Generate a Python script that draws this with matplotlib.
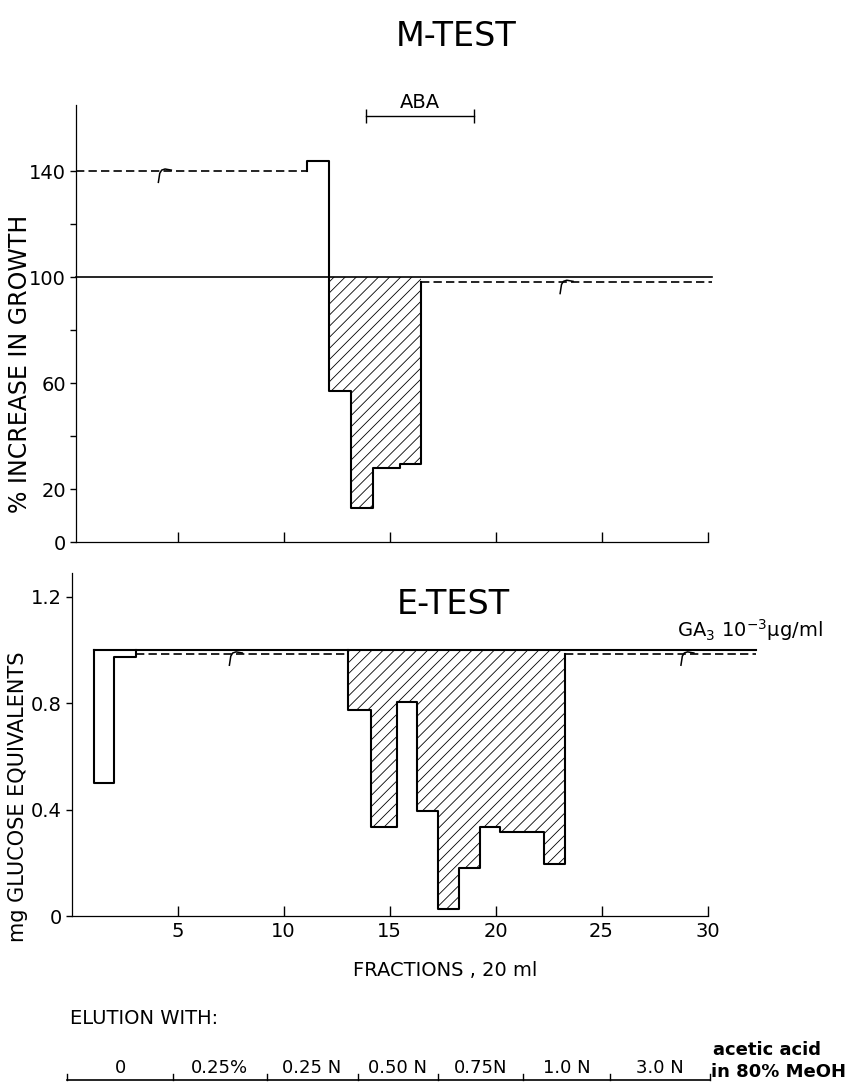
import matplotlib
matplotlib.use('Agg')
import matplotlib.pyplot as plt
import matplotlib.transforms as mtransforms
from matplotlib import font_manager

# ---- M-test (% increase in growth) ----
m_ref = 100               # control line
m_ctrl_left = 140         # dashed level, fractions before the active zone
m_ctrl_right = 98         # dashed level after the active zone
m_edges = [11.1, 12.15, 13.2, 14.2, 15.5, 16.5]
m_growth = [144, 57, 13, 28, 29.5]
m_breaks = [(4.15, 140), (23.1, 98)]
m_yticks = [0, 20, 40, 60, 80, 100, 120, 140]
m_yticklabels = ['0', '20', '', '60', '', '100', '', '140']
aba_range = [13.9, 19.0]
aba_level = 160.7

# ---- E-test (mg glucose equivalents) ----
e_ref = 1.0               # GA3 10^-3 ug/ml
e_ctrl = 0.985
e_first_edges = [1.05, 2.0, 3.05]
e_first = [0.50, 0.975]
e_edges = [13.05, 14.15, 15.35, 16.3, 17.3, 18.3, 19.25, 20.2, 22.3, 23.3]
e_glucose = [0.775, 0.335, 0.805, 0.395, 0.025, 0.18, 0.335, 0.315, 0.195]
e_breaks = [(7.5, 0.985), (28.8, 0.985)]
e_yticks = [0, 0.4, 0.8, 1.2]
e_yticklabels = ['0', '0.4', '0.8', '1.2']

x_ticks = [5, 10, 15, 20, 25, 30]

# ---- elution scheme ----
elution_bounds = [-0.2, 4.8, 9.2, 13.5, 17.3, 21.3, 25.4, 30.1]
elution_labels = ['0', '0.25%', '0.25 N', '0.50 N', '0.75N', '1.0 N', '3.0 N']

W, H = 859, 1083
names = {f.name for f in font_manager.fontManager.ttflist}
narrow = 'Liberation Sans Narrow' if 'Liberation Sans Narrow' in names else 'DejaVu Sans'
tick_fs = 16 if narrow != 'DejaVu Sans' else 14
plt.rcParams['font.family'] = ['DejaVu Sans']
plt.rcParams['hatch.linewidth'] = 0.6


def fx(px):
    return px / W


def fy(py):
    return 1 - py / H


def step_outline(edges, vals, y0, y1):
    xs = [edges[0]] + edges[:-1] + [edges[-1], edges[-1]]
    ys = [y0] + vals + [vals[-1], y1]
    return xs, ys


def break_mark(ax, x, y):
    # small squiggle on the dashed control line
    tr = (mtransforms.Affine2D().scale(1 / 72.) + fig.dpi_scale_trans +
          mtransforms.ScaledTranslation(x, y, ax.transData))
    ax.plot([-0.8, 0.2, 1.6, 4.0, 8.5], [-8, -1.5, 0.8, 1.6, 0.8],
            color='black', lw=1.1, transform=tr, clip_on=False)


fig = plt.figure(figsize=(W / 100, H / 100), dpi=100)
ax1 = fig.add_axes([fx(71.5), fy(542), 32.4 * 21.2 / W, 437 / H])
ax2 = fig.add_axes([fx(71.5), fy(916), 32.4 * 21.2 / W, 343 / H])

for ax in (ax1, ax2):
    ax.spines['top'].set_visible(False)
    ax.spines['right'].set_visible(False)
    for s in ('left', 'bottom'):
        ax.spines[s].set_linewidth(0.9)
ax1.spines['left'].set_position(('data', 0.2))

# ---------------- top panel ----------------
ax1.plot([0.2, 30.2], [m_ref, m_ref], color='black', lw=1.2)
ax1.plot([0.2, m_edges[0]], [m_ctrl_left] * 2, color='black', lw=1.2, ls=(0, (5, 2.5)))
ax1.plot([m_edges[-1], 30.2], [m_ctrl_right] * 2, color='black', lw=1.2, ls=(0, (5, 2.5)))
xs, ys = step_outline(m_edges, m_growth, m_ctrl_left, m_ctrl_right)
ax1.step(xs, ys, where='post', color='black', lw=1.5)
ax1.fill_between(m_edges[1:], m_growth[1:] + [m_growth[-1]], m_ref, step='post',
                 facecolor='none', edgecolor='black', hatch='///', lw=0)
for bx, by in m_breaks:
    break_mark(ax1, bx, by)

ax1.plot(aba_range, [aba_level] * 2, color='black', lw=1.0, clip_on=False)
ax1.plot(aba_range, [aba_level] * 2, color='black', ls='none', marker='|', ms=10,
         mew=1.0, clip_on=False)
ax1.text(sum(aba_range) / 2, 162.3, 'ABA', ha='center', va='bottom', fontsize=14)

ax1.set_xlim(0, 32.4)
ax1.set_ylim(0, 165)
ax1.set_yticks(m_yticks)
ax1.set_yticklabels(m_yticklabels, family=narrow, fontsize=tick_fs)
ax1.set_xticks(x_ticks)
ax1.set_xticklabels([])
ax1.spines['bottom'].set_bounds(0.2, 30)
ax1.tick_params(axis='x', direction='in', length=7, width=1)
ax1.tick_params(axis='y', direction='out', length=4, width=1, pad=3)

# ---------------- bottom panel ----------------
ax2.plot([e_first_edges[0], 32.3], [e_ref, e_ref], color='black', lw=1.5)
ax2.plot([e_first_edges[-1], e_edges[0]], [e_ctrl] * 2, color='black', lw=1.2, ls=(0, (5, 2.5)))
ax2.plot([e_edges[-1], 32.3], [e_ctrl] * 2, color='black', lw=1.2, ls=(0, (5, 2.5)))
xs, ys = step_outline(e_first_edges, e_first, e_ref, e_ref)
ax2.step(xs, ys, where='post', color='black', lw=1.5)
xs, ys = step_outline(e_edges, e_glucose, e_ref, e_ctrl)
ax2.step(xs, ys, where='post', color='black', lw=1.5)
ax2.fill_between(e_edges, e_glucose + [e_glucose[-1]], e_ref, step='post',
                 facecolor='none', edgecolor='black', hatch='///', lw=0)
for bx, by in e_breaks:
    break_mark(ax2, bx, by)

ax2.text(28.55, 1.05, 'GA$_3$ 10$^{-3}$µg/ml', ha='left', va='baseline', fontsize=14)

ax2.set_xlim(0, 32.4)
ax2.set_ylim(0, 1.29)
ax2.set_yticks(e_yticks)
ax2.set_yticklabels(e_yticklabels, family=narrow, fontsize=tick_fs)
ax2.set_xticks(x_ticks)
ax2.set_xticklabels([str(t) for t in x_ticks], family=narrow, fontsize=tick_fs)
ax2.spines['bottom'].set_bounds(0, 30)
ax2.tick_params(axis='x', direction='in', length=7, width=1, pad=4)
ax2.tick_params(axis='y', direction='out', length=4, width=1, pad=3)

# ---------------- elution scheme ----------------
tr = ax2.get_xaxis_transform()
y_line = -(1080 - 916) / 343
tick_h = 6 / 343
ax2.plot([elution_bounds[0], elution_bounds[-1]], [y_line] * 2, color='black', lw=1.2,
         transform=tr, clip_on=False)
for b in elution_bounds:
    ax2.plot([b, b], [y_line, y_line + tick_h], color='black', lw=1.0,
             transform=tr, clip_on=False)
for i, lab in enumerate(elution_labels):
    xc = (elution_bounds[i] + elution_bounds[i + 1]) / 2
    ax2.text(xc, y_line + 3 / 343, lab, transform=tr, ha='center', va='bottom',
             family=narrow, fontsize=13)

# ---------------- texts ----------------
fig.text(fx(456), fy(36), 'M-TEST', ha='center', va='center', fontsize=24)
fig.text(fx(453), fy(604), 'E-TEST', ha='center', va='center', fontsize=24)
fig.text(fx(20), fy(364), '% INCREASE IN GROWTH', rotation=90, ha='center', va='center',
         fontsize=17)
fig.text(fx(18), fy(797), 'mg GLUCOSE EQUIVALENTS', rotation=90, ha='center', va='center',
         fontsize=15)
fig.text(fx(445), fy(970), 'FRACTIONS , 20 ml', ha='center', va='center', fontsize=14)
fig.text(fx(70), fy(1018), 'ELUTION WITH:', ha='left', va='center', fontsize=14)
fig.text(fx(713), fy(1050), 'acetic acid', ha='left', va='center', fontsize=13,
         fontweight='bold')
fig.text(fx(711), fy(1072), 'in 80% MeOH', ha='left', va='center', fontsize=13,
         fontweight='bold')

fig.savefig('out.png', dpi=100, facecolor='white')
